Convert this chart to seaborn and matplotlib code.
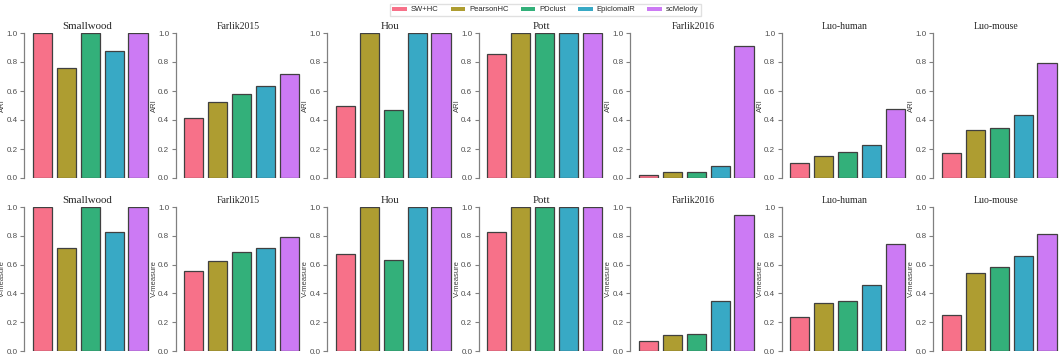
import matplotlib

matplotlib.use("Agg")
import matplotlib.pyplot as plt
import pandas as pd
import seaborn as sns
from matplotlib.patches import Patch

datasets = ["Smallwood", "Farlik2015", "Hou", "Pott", "Farlik2016", "Luo-human", "Luo-mouse"]
methods = ["SW+HC", "PearsonHC", "PDclust", "EpiclomalR", "scMelody"]
big_titles = ["Smallwood", "Hou", "Pott"]

# one list per dataset, in the order of `methods`
ari_values = [
    [1.00, 0.76, 1.00, 0.875, 1.00],
    [0.415, 0.525, 0.578, 0.632, 0.715],
    [0.495, 1.00, 0.472, 1.00, 1.00],
    [0.852, 1.00, 1.00, 1.00, 1.00],
    [0.022, 0.043, 0.040, 0.082, 0.913],
    [0.105, 0.155, 0.180, 0.227, 0.477],
    [0.170, 0.330, 0.345, 0.435, 0.790],
]
vmeasure_values = [
    [1.00, 0.715, 1.00, 0.828, 1.00],
    [0.555, 0.625, 0.685, 0.715, 0.790],
    [0.675, 1.00, 0.635, 1.00, 1.00],
    [0.825, 1.00, 1.00, 1.00, 1.00],
    [0.072, 0.110, 0.115, 0.345, 0.945],
    [0.235, 0.330, 0.345, 0.455, 0.740],
    [0.252, 0.545, 0.585, 0.660, 0.810],
]


def long_frame(values: list[list[float]]) -> pd.DataFrame:
    rows = []
    for name, scores in zip(datasets, values):
        for method, score in zip(methods, scores):
            rows.append({"dataset": name, "method": method, "value": score})
    return pd.DataFrame(rows)


sns.set_theme(style="ticks")
plt.rcParams["font.family"] = ["Liberation Sans", "DejaVu Sans"]
palette = sns.color_palette("husl", len(methods))

W, H = 1059, 355
AX_W = 126
fig = plt.figure(figsize=(W / 100, H / 100), dpi=100)

rows = [
    (long_frame(ari_values), "ARI", 178, 33),
    (long_frame(vmeasure_values), "V-measure", 351, 207),
]
for frame, ylabel, bottom_px, top_px in rows:
    for i, name in enumerate(datasets):
        left_px = 24 + 151.5 * i
        ax = fig.add_axes([left_px / W, (H - bottom_px) / H, AX_W / W, (bottom_px - top_px) / H])
        sub = frame[frame["dataset"] == name]
        sns.barplot(
            data=sub, x="method", y="value", hue="method", order=methods, hue_order=methods,
            palette=palette, saturation=1, width=0.8, edgecolor="0.25", linewidth=0.9,
            legend=False, ax=ax,
        )
        ax.set_ylim(0, 1)
        ax.set_xlim(-0.77, 4.5)
        ax.set_yticks([0, 0.2, 0.4, 0.6, 0.8, 1.0])
        ax.set_xticks([])
        ax.set_xlabel("")
        ax.set_ylabel(ylabel, fontsize=5.5, color="0.25")
        ax.yaxis.set_label_coords(-18 / AX_W, 0.5)
        for side in ("top", "right", "bottom"):
            ax.spines[side].set_visible(False)
        ax.spines["left"].set_color("0.5")
        ax.spines["left"].set_linewidth(0.9)
        ax.tick_params(axis="y", labelsize=5.8, length=3, width=0.8, color="0.5", labelcolor="0.3", pad=1.5)
        size = 7.8 if name in big_titles else 7
        ax.set_title(name, fontsize=size, family=["Liberation Serif", "DejaVu Serif"], pad=3)

handles = [Patch(facecolor=c, edgecolor="none", label=m) for m, c in zip(methods, palette)]
fig.legend(
    handles=handles, loc="upper center", bbox_to_anchor=(0.515, 1.0), ncol=5, fontsize=5.5,
    frameon=True, handlelength=1.9, handleheight=0.45, columnspacing=1.6, borderpad=0.35,
    handletextpad=0.5, edgecolor="0.85", fancybox=False,
)

fig.savefig("out.png", dpi=100)
